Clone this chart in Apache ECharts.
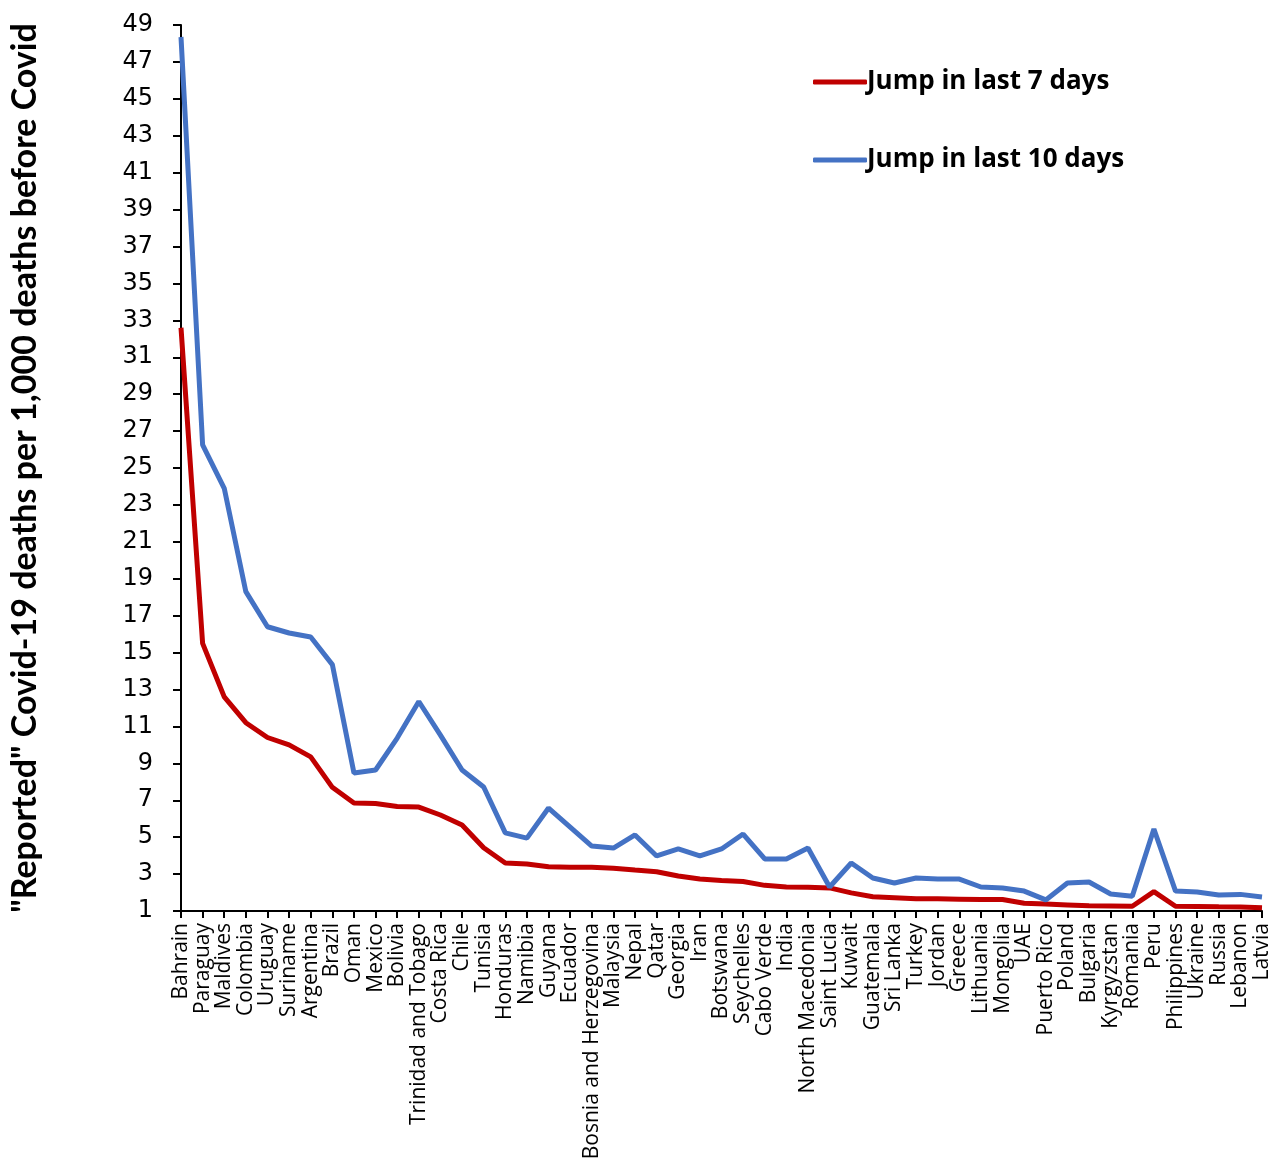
<!DOCTYPE html>
<html>
<head>
<meta charset="utf-8">
<script src="https://cdn.jsdelivr.net/npm/echarts@6/dist/echarts.min.js"></script>
<style>
html,body{margin:0;padding:0;background:#fff;}
#chart{width:1286px;height:1160px;}
</style>
</head>
<body>
<div id="chart"></div>
<script>
const countries = ["Bahrain","Paraguay","Maldives","Colombia","Uruguay","Suriname","Argentina","Brazil","Oman","Mexico","Bolivia","Trinidad and Tobago","Costa Rica","Chile","Tunisia","Honduras","Namibia","Guyana","Ecuador","Bosnia and Herzegovina","Malaysia","Nepal","Qatar","Georgia","Iran","Botswana","Seychelles","Cabo Verde","India","North Macedonia","Saint Lucia","Kuwait","Guatemala","Sri Lanka","Turkey","Jordan","Greece","Lithuania","Mongolia","UAE","Puerto Rico","Poland","Bulgaria","Kyrgyzstan","Romania","Peru","Philippines","Ukraine","Russia","Lebanon","Latvia"];

const jump7 = [32.6,15.5,12.6,11.2,10.4,10.0,9.35,7.7,6.85,6.82,6.66,6.63,6.2,5.66,4.43,3.6,3.55,3.4,3.37,3.37,3.32,3.22,3.13,2.9,2.73,2.65,2.6,2.39,2.3,2.28,2.25,1.98,1.77,1.72,1.67,1.66,1.64,1.62,1.62,1.42,1.38,1.33,1.28,1.27,1.26,2.05,1.26,1.25,1.23,1.22,1.17];

const jump10 = [48.35,26.25,23.9,18.3,16.4,16.06,15.84,14.35,8.48,8.64,10.37,12.35,10.53,8.64,7.72,5.23,4.95,6.58,5.55,4.52,4.41,5.12,3.98,4.36,3.98,4.36,5.17,3.82,3.82,4.41,2.3,3.6,2.79,2.52,2.79,2.73,2.73,2.3,2.25,2.08,1.6,2.52,2.57,1.92,1.8,5.44,2.08,2.03,1.87,1.9,1.76];

const seriesNames = ["Jump in last 7 days","Jump in last 10 days"];
const yAxisTitle = '"Reported" Covid-19 deaths per 1,000 deaths before Covid';

const chart = echarts.init(document.getElementById('chart'), null, {renderer:'canvas'});
chart.setOption({
  animation:false,
  backgroundColor:'#fff',
  grid:{left:181,right:24,top:25,bottom:249,containLabel:false,outerBoundsMode:'none'},
  legend:{
    orient:'vertical',
    left:808, top:64,
    itemWidth:54, itemHeight:5, itemGap:52,
    icon:'roundRect',
    textStyle:{fontFamily:'"Open Sans"',fontWeight:'bold',fontSize:26,color:'#000',padding:[0,0,0,-5]},
    data:seriesNames
  },
  xAxis:{
    type:'category',
    data:countries,
    boundaryGap:false,
    axisLine:{lineStyle:{color:'#000',width:2}},
    axisTick:{show:true,length:7,alignWithLabel:true,lineStyle:{color:'#000',width:2}},
    axisLabel:{rotate:90,interval:0,fontFamily:'"Open Sans"',fontSize:21,color:'#000',margin:12},
    splitLine:{show:false}
  },
  yAxis:{
    type:'value',
    min:1,max:49,interval:2,
    name:yAxisTitle,
    nameLocation:'middle',
    nameGap:139,
    nameTextStyle:{fontFamily:'Lato',fontWeight:'bold',fontSize:34,color:'#000'},
    axisLine:{show:true,lineStyle:{color:'#000',width:2}},
    axisTick:{show:true,length:8,lineStyle:{color:'#000',width:2}},
    axisLabel:{fontFamily:'"DejaVu Sans"',fontSize:24,color:'#000',margin:28},
    splitLine:{show:false}
  },
  series:[
    {name:seriesNames[0],type:'line',data:jump7,symbol:'none',lineStyle:{color:'#C00000',width:5},itemStyle:{color:'#C00000'}},
    {name:seriesNames[1],type:'line',data:jump10,symbol:'none',lineStyle:{color:'#4472C4',width:5},itemStyle:{color:'#4472C4'}}
  ]
});
</script>
</body>
</html>
